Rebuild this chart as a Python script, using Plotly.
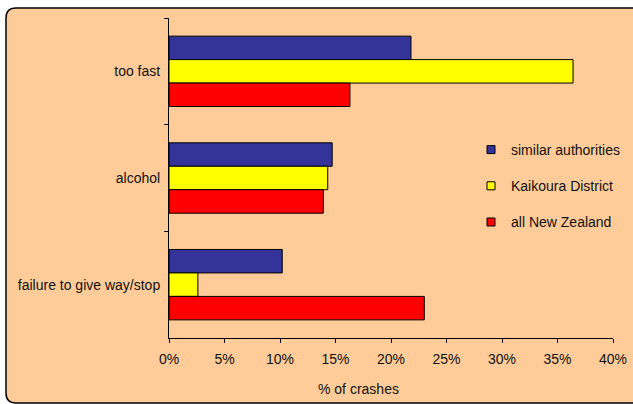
import plotly.graph_objects as go

categories = ["too fast", "alcohol", "failure to give way/stop"]
series_names = ["similar authorities", "Kaikoura District", "all New Zealand"]
similar_authorities = [21.8, 14.7, 10.2]
kaikoura_district = [36.4, 14.3, 2.6]
all_new_zealand = [16.3, 13.9, 23.0]
x_ticks = [0, 5, 10, 15, 20, 25, 30, 35, 40]
x_tick_labels = [f"{v}%" for v in x_ticks]
colors = ["#333399", "#FFFF00", "#FF0000"]

W, H = 633, 404
ML, MR, MT, MB = 169, 20, 18, 66
PW, PH = W - ML - MR, H - MT - MB

def fx(px):
    return (px - ML) / PW

def fy(py):
    return (H - MB - py) / PH

FONT = "Arial, Liberation Sans, sans-serif"
FS = 14
TXT = "#111111"

fig = go.Figure()
for name, vals, col in zip(series_names, [similar_authorities, kaikoura_district, all_new_zealand], colors):
    fig.add_trace(go.Bar(
        y=categories, x=vals, orientation="h", name=name,
        marker=dict(color=col, line=dict(color="#000000", width=1)),
        showlegend=False, hoverinfo="x+name",
    ))
for i, (name, col) in enumerate(zip(series_names, colors)):
    fig.add_trace(go.Scatter(
        x=[None], y=[None], mode="markers", name=name,
        marker=dict(symbol="square", size=8, color=col, line=dict(color="#000000", width=1)),
        legendgroup=f"g{i}", showlegend=True,
    ))

# rounded chart-area box
l, t, r, b, rad = 6, 8, 650, 403, 10
path = (f"M {fx(l)},{fy(t+rad)} Q {fx(l)},{fy(t)} {fx(l+rad)},{fy(t)} "
        f"L {fx(r)},{fy(t)} L {fx(r)},{fy(b)} L {fx(l+rad)},{fy(b)} "
        f"Q {fx(l)},{fy(b)} {fx(l)},{fy(b-rad)} Z")

fig.update_layout(
    width=W, height=H,
    margin=dict(l=ML, r=MR, t=MT, b=MB, pad=0, autoexpand=False),
    paper_bgcolor="#FFFFFF",
    plot_bgcolor="rgba(0,0,0,0)",
    barmode="group", bargap=0.34, bargroupgap=0,
    font=dict(family=FONT, size=FS, color=TXT),
    shapes=[dict(type="path", path=path, xref="paper", yref="paper",
                 fillcolor="#FFCC99", line=dict(color="#000000", width=1.5), layer="below")],
    legend=dict(x=fx(471), y=fy(134), xanchor="left", yanchor="top",
                bgcolor="rgba(0,0,0,0)", font=dict(size=FS, family=FONT, color=TXT),
                traceorder="grouped", tracegroupgap=15, itemwidth=30),
    annotations=[dict(text="% of crashes", x=fx(358), y=fy(389), xref="paper", yref="paper",
                      showarrow=False, xanchor="center", yanchor="middle",
                      font=dict(size=FS, family=FONT, color=TXT))],
    xaxis=dict(range=[0, 40], tickvals=x_ticks, ticktext=x_tick_labels,
               showgrid=False, zeroline=False, showline=True, linecolor="#000000", linewidth=1,
               ticks="outside", ticklen=4, tickcolor="#000000", ticklabelstandoff=4,
               fixedrange=True, automargin=False),
    yaxis=dict(type="category", categoryorder="array", categoryarray=categories,
               autorange="reversed", tickson="boundaries",
               showgrid=False, zeroline=False, showline=True, linecolor="#000000", linewidth=1,
               ticks="outside", ticklen=4, tickcolor="#000000", ticklabelstandoff=5,
               fixedrange=True, automargin=False),
)

fig.write_html("out.html")
